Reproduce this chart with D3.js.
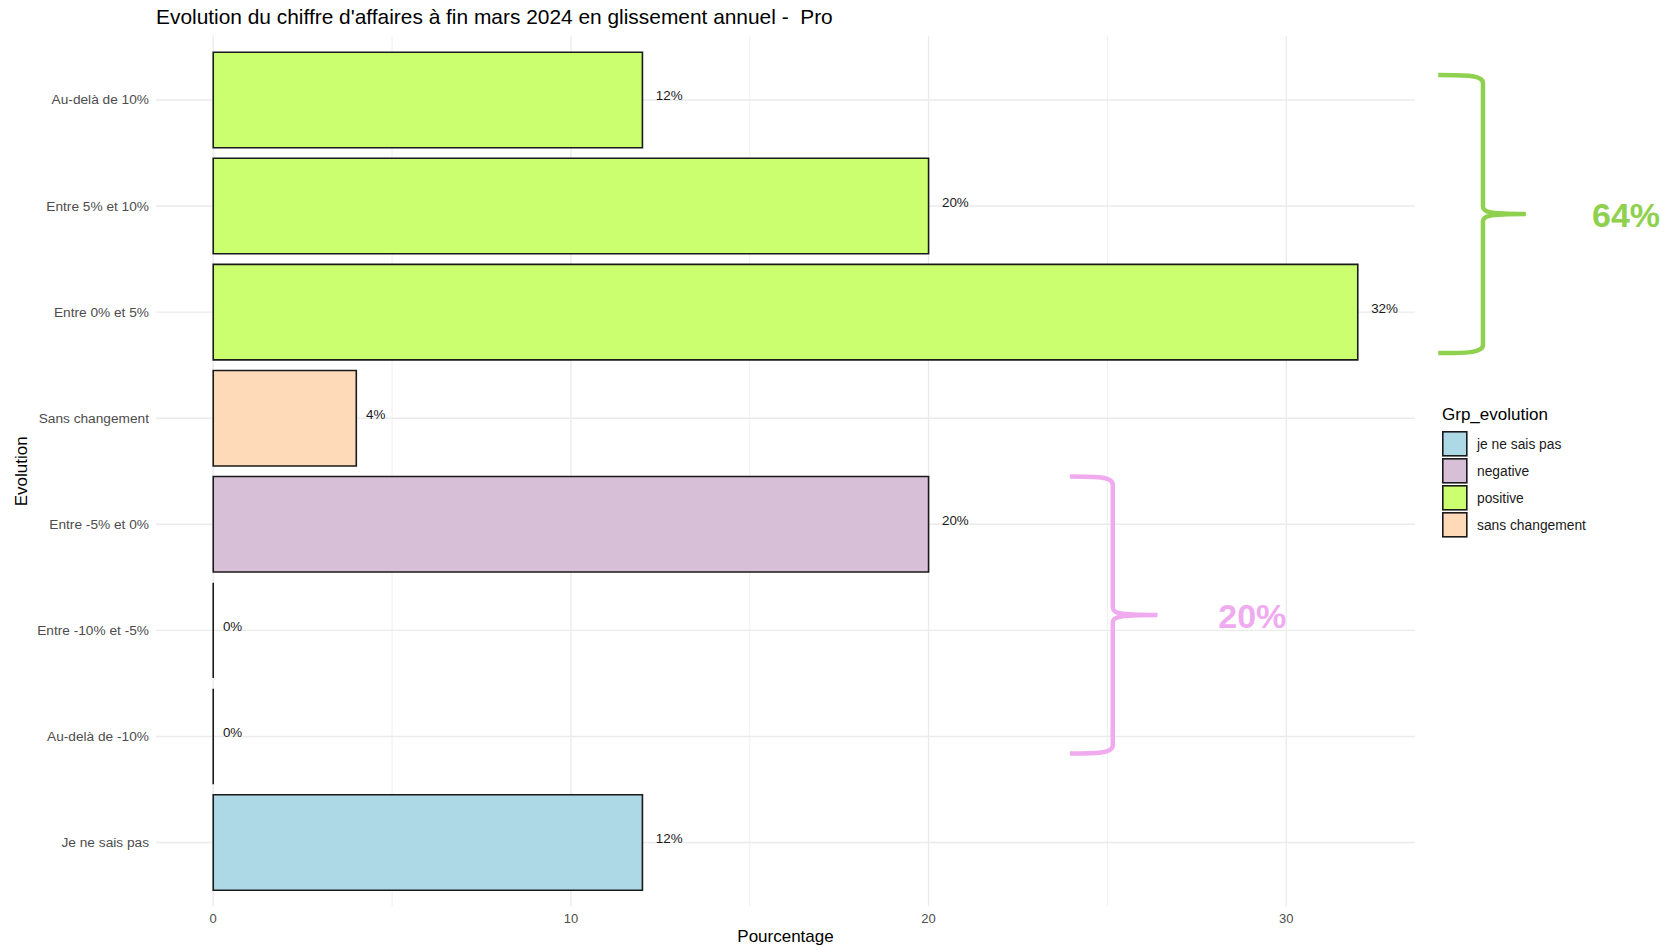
<!DOCTYPE html>
<html>
<head>
<meta charset="utf-8">
<script src="https://cdn.jsdelivr.net/npm/d3@7"></script>
<style>
  html, body { margin: 0; padding: 0; background: #fff; }
  svg { display: block; font-family: "Liberation Sans", Arial, sans-serif; }
  text { white-space: pre; }
</style>
</head>
<body>
<svg id="chart" width="1668" height="947"></svg>
<script>
// ---- data ----
const categories = ["Au-delà de 10%", "Entre 5% et 10%", "Entre 0% et 5%", "Sans changement",
                    "Entre -5% et 0%", "Entre -10% et -5%", "Au-delà de -10%", "Je ne sais pas"];
const values = [12, 20, 32, 4, 20, 0, 0, 12];
const groups = ["positive", "positive", "positive", "sans changement",
                "negative", "negative", "negative", "je ne sais pas"];
const legendGroups = ["je ne sais pas", "negative", "positive", "sans changement"];
const groupColors = ["#ADD8E6", "#D8BFD8", "#CCFF70", "#FFDAB9"];
const xTicks = [0, 10, 20, 30];
const xMinorTicks = [5, 15, 25];
const title = "Evolution du chiffre d'affaires à fin mars 2024 en glissement annuel -  Pro";
const xTitle = "Pourcentage";
const yTitle = "Evolution";
const legendTitle = "Grp_evolution";

const data = categories.map((c, i) => ({ cat: c, value: values[i], group: groups[i] }));

// ---- layout ----
const svg = d3.select("#chart");
const panel = { left: 156, right: 1415, top: 36.3, bottom: 906.2 };
const xMax = d3.max(values);
const x = d3.scaleLinear().domain([-0.05 * xMax, xMax * 1.05]).range([panel.left, panel.right]);
const y = d3.scaleBand().domain(categories).range([panel.top, panel.bottom])
  .paddingInner(0.1).paddingOuter(0.15);
const color = d3.scaleOrdinal().domain(legendGroups).range(groupColors);

// grid
const grid = svg.append("g");
grid.selectAll("line.minor").data(xMinorTicks).join("line")
  .attr("x1", d => x(d)).attr("x2", d => x(d))
  .attr("y1", panel.top).attr("y2", panel.bottom)
  .attr("stroke", "#ebebeb").attr("stroke-width", 0.8);
grid.selectAll("line.majorx").data(xTicks).join("line")
  .attr("x1", d => x(d)).attr("x2", d => x(d))
  .attr("y1", panel.top).attr("y2", panel.bottom)
  .attr("stroke", "#ebebeb").attr("stroke-width", 1.4);
grid.selectAll("line.majory").data(categories).join("line")
  .attr("x1", panel.left).attr("x2", panel.right)
  .attr("y1", d => y(d) + y.bandwidth() / 2).attr("y2", d => y(d) + y.bandwidth() / 2)
  .attr("stroke", "#ebebeb").attr("stroke-width", 1.4);

// bars (drawn as paths so zero-width bars still show their outline)
svg.append("g").selectAll("path").data(data).join("path")
  .attr("d", d => {
    const x0 = x(0), w = x(d.value) - x(0), y0 = y(d.cat), h = y.bandwidth();
    return `M${x0},${y0}h${w}v${h}h${-w}Z`;
  })
  .attr("fill", d => color(d.group))
  .attr("stroke", "#1a1a1a").attr("stroke-width", 1.6);

// value labels (hjust = -0.5)
const lab = svg.append("g").selectAll("text").data(data).join("text")
  .attr("y", d => y(d.cat) + y.bandwidth() / 2 - 4)
  .attr("dominant-baseline", "central")
  .attr("font-size", 13.4).attr("fill", "#1a1a1a")
  .text(d => d.value + "%");
lab.each(function(d) {
  const w = this.getComputedTextLength();
  d3.select(this).attr("x", x(d.value) + 0.5 * w);
});

// y axis labels
svg.append("g").selectAll("text").data(categories).join("text")
  .attr("x", 149).attr("y", d => y(d) + y.bandwidth() / 2)
  .attr("text-anchor", "end").attr("dominant-baseline", "central")
  .attr("font-size", 13.7).attr("fill", "#4d4d4d").text(d => d);

// x axis labels
svg.append("g").selectAll("text").data(xTicks).join("text")
  .attr("x", d => x(d)).attr("y", 923)
  .attr("text-anchor", "middle")
  .attr("font-size", 13).attr("fill", "#4d4d4d").text(d => d);

// axis titles
svg.append("text").attr("x", (panel.left + panel.right) / 2).attr("y", 942)
  .attr("text-anchor", "middle").attr("font-size", 17).attr("fill", "#000").text(xTitle);
svg.append("text").attr("transform", `translate(27,${(panel.top + panel.bottom) / 2}) rotate(-90)`)
  .attr("text-anchor", "middle").attr("font-size", 17).attr("fill", "#000").text(yTitle);

// title
svg.append("text").attr("x", 156).attr("y", 24)
  .attr("font-size", 20.9).attr("fill", "#000").text(title);

// legend
const lg = svg.append("g");
lg.append("text").attr("x", 1442).attr("y", 420).attr("font-size", 17).attr("fill", "#000").text(legendTitle);
const items = lg.selectAll("g.item").data(legendGroups).join("g")
  .attr("transform", (d, i) => `translate(1442,${431 + i * 27})`);
items.append("rect").attr("x", 0.8).attr("y", 0.8).attr("width", 24).attr("height", 24)
  .attr("fill", d => color(d)).attr("stroke", "#1a1a1a").attr("stroke-width", 1.6);
items.append("text").attr("x", 35).attr("y", 13).attr("dominant-baseline", "central")
  .attr("font-size", 13.8).attr("fill", "#1a1a1a").text(d => d);

// ---- annotation braces ----
function bracePath(x0, xv, xt, yTop, yMid, yBot) {
  const r = 8;
  return `M${x0},${yTop} C${x0 + (xv - x0) * 0.6},${yTop} ${xv},${yTop} ${xv},${yTop + r}` +
    ` L${xv},${yMid - r} C${xv},${yMid - 2} ${xv + 4},${yMid} ${xt},${yMid}` +
    ` M${xt},${yMid} C${xv + 4},${yMid} ${xv},${yMid + 2} ${xv},${yMid + r}` +
    ` L${xv},${yBot - r} C${xv},${yBot} ${x0 + (xv - x0) * 0.6},${yBot} ${x0},${yBot}`;
}
const posSum = d3.sum(data.filter(d => d.group === "positive"), d => d.value);
const negSum = d3.sum(data.filter(d => d.group === "negative"), d => d.value);
const cy = c => y(c) + y.bandwidth() / 2;

// green brace (positive)
{
  const yTop = cy(categories[0]) - 25, yBot = cy(categories[2]) + 41;
  const yMid = (yTop + yBot) / 2;
  svg.append("path").attr("d", bracePath(x(34.25), x(35.5), x(36.7), yTop, yMid, yBot))
    .attr("fill", "none").attr("stroke", "#8fd14f").attr("stroke-width", 4.5).attr("stroke-linejoin", "round");
  svg.append("text").attr("x", x(38.55)).attr("y", yMid + 13).attr("font-size", 34).attr("font-weight", "bold")
    .attr("fill", "#8fd14f").text(posSum + "%");
}
// pink brace (negative)
{
  const yTop = y(categories[4]), yBot = cy(categories[6]) + 17;
  const yMid = (yTop + yBot) / 2;
  svg.append("path").attr("d", bracePath(x(23.95), x(25.15), x(26.4), yTop, yMid, yBot))
    .attr("fill", "none").attr("stroke", "#f0abf0").attr("stroke-width", 4.5).attr("stroke-linejoin", "round");
  svg.append("text").attr("x", x(28.1)).attr("y", yMid + 13).attr("font-size", 34).attr("font-weight", "bold")
    .attr("fill", "#f0abf0").text(negSum + "%");
}
</script>
</body>
</html>
